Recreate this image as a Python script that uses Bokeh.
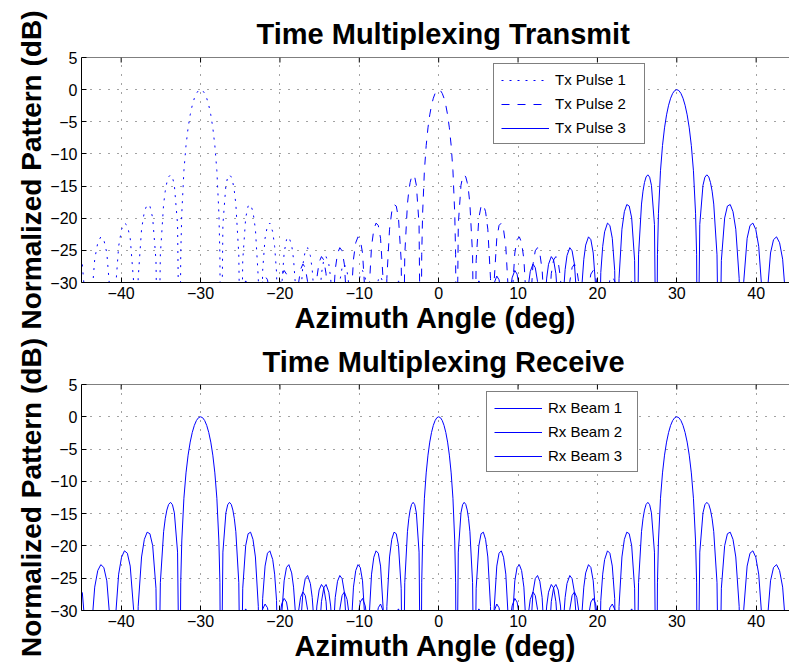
from bokeh.plotting import figure
from bokeh.models import Range1d, FixedTicker, Legend, LegendItem, Title, Span
from bokeh.layouts import column
from bokeh.embed import file_html
from bokeh.resources import INLINE

# ---------------- data ----------------
x_ticks = [-40, -30, -20, -10, 0, 10, 20, 30, 40]
x_tick_labels = ["\u221240", "\u221230", "\u221220", "\u221210", "0", "10", "20", "30", "40"]
y_ticks = [-30, -25, -20, -15, -10, -5, 0, 5]
y_tick_labels = ["\u221230", "\u221225", "\u221220", "\u221215", "\u221210", "\u22125", "0", "5"]
titles = ["Time Multiplexing Transmit", "Time Multiplexing Receive"]
x_label = "Azimuth Angle (deg)"
y_label = "Normalized Pattern (dB)"
tx_names = ["Tx Pulse 1", "Tx Pulse 2", "Tx Pulse 3"]
rx_names = ["Rx Beam 1", "Rx Beam 2", "Rx Beam 3"]

# Beam steered to -30 deg (angle in deg, normalized pattern in dB)
beam1_deg = [
    -44.901, -44.427,
    -44.113, -43.801, -43.336, -42.951, -42.568, -42.188, -41.810, -41.360,
    -41.061, -40.763, -40.320, -39.953, -39.587, -39.224, -38.862, -38.431,
    -38.144, -37.859, -37.434, -37.081, -36.730, -36.380, -36.032, -35.617,
    -35.341, -35.066, -34.655, -34.450, -34.246, -34.029, -33.785, -33.542, -33.300, -32.897,
    -32.630, -32.497, -32.364, -32.098, -31.833, -31.569, -31.306, -31.043, -30.781, -30.520, -30.260,
    -30.000, -29.741, -29.482, -29.225, -28.968, -28.711, -28.455, -28.200, -27.946, -27.691, -27.564,
    -27.438, -27.185, -26.807, -26.580, -26.354, -26.129, -25.929, -25.742, -25.555, -25.182,
    -24.934, -24.686, -24.316, -24.008, -23.701, -23.395, -23.089, -22.724,
    -22.479, -22.176, -21.873, -21.570, -21.269, -20.907, -20.667, -20.427,
    -20.068, -19.769, -19.471, -19.174, -18.876, -18.521, -18.284, -18.047,
    -17.693, -17.399, -17.105, -16.811, -16.518, -16.167, -15.933, -15.699,
    -15.349, -15.058, -14.768, -14.478, -14.188, -13.840, -13.609, -13.378,
    -13.032, -12.744, -12.456, -12.168, -11.881, -11.537, -11.308, -11.079,
    -10.735, -10.450, -10.164, -9.879, -9.594, -9.252, -9.025, -8.797,
    -8.457, -8.173, -7.889, -7.606, -7.322, -6.983, -6.756, -6.530,
    -6.191, -5.909, -5.626, -5.344, -5.062, -4.724, -4.498, -4.273, -3.935]
beam1_db = [
    -27.19, -34.13,
    -50, -33.84, -26.38, -23.82, -22.90, -23.34, -25.41, -32.29,
    -50, -31.90, -24.37, -21.75, -20.76, -21.13, -23.12, -29.90,
    -50, -29.36, -21.71, -18.98, -17.87, -18.11, -19.96, -26.55,
    -50, -25.70, -17.80, -15.79, -14.45, -13.58, -13.25, -13.62, -14.88, -20.96,
    -50, -25.61, -19.23, -12.62, -8.69, -5.94, -3.92, -2.42, -1.33, -0.58, -0.14,
    0, -0.14, -0.58, -1.33, -2.42, -3.92, -5.94, -8.69, -12.62, -19.23, -25.61,
    -50, -20.96, -14.88, -13.62, -13.25, -13.58, -14.45, -15.79, -17.80, -25.70,
    -50, -26.55, -19.96, -18.11, -17.87, -18.98, -21.71, -29.36,
    -50, -28.12, -23.12, -21.13, -20.76, -22.12, -24.37, -28.44,
    -50, -30.48, -25.41, -23.34, -22.90, -24.18, -26.38, -30.41,
    -50, -32.31, -27.19, -25.07, -24.58, -25.82, -27.98, -31.98,
    -50, -33.80, -28.64, -26.49, -25.97, -27.17, -29.31, -33.28,
    -50, -35.03, -29.85, -27.68, -27.13, -28.31, -30.43, -34.39,
    -50, -36.08, -30.88, -28.69, -28.13, -29.28, -31.39, -35.34,
    -50, -36.99, -31.78, -29.57, -29.00, -30.13, -32.23, -36.17,
    -50, -37.78, -32.55, -30.34, -29.75, -30.88, -32.97, -36.90, -50]

# Beam steered to 0 deg
beam2_deg = [
    -25.555, -25.306, -24.933, -24.624, -24.316, -24.008, -23.701, -23.333,
    -23.089, -22.845, -22.479, -22.176, -21.873, -21.570, -21.269, -20.907,
    -20.667, -20.427, -20.068, -19.769, -19.471, -19.174, -18.876, -18.521,
    -18.284, -18.047, -17.693, -17.399, -17.105, -16.811, -16.518, -16.167,
    -15.933, -15.699, -15.349, -15.058, -14.768, -14.478, -14.188, -13.840,
    -13.609, -13.378, -13.032, -12.744, -12.456, -12.168, -11.881, -11.537,
    -11.308, -11.079, -10.735, -10.450, -10.164, -9.879, -9.594, -9.252,
    -9.025, -8.797, -8.457, -8.173, -7.889, -7.606, -7.322, -6.983,
    -6.756, -6.530, -6.191, -5.909, -5.626, -5.344, -5.062, -4.724,
    -4.498, -4.273, -3.935, -3.766, -3.597, -3.417, -3.215, -3.012, -2.810, -2.472,
    -2.248, -2.135, -2.023, -1.798, -1.573, -1.348, -1.124, -0.899, -0.674, -0.449, -0.225,
    0.0,
    0.225, 0.449, 0.674, 0.899, 1.124, 1.348, 1.573, 1.798, 2.023, 2.135, 2.248,
    2.472, 2.810, 3.012, 3.215, 3.417, 3.597, 3.766, 3.935, 4.273, 4.498,
    4.724, 5.062, 5.344, 5.626, 5.909, 6.191, 6.530, 6.756,
    6.983, 7.322, 7.606, 7.889, 8.173, 8.457, 8.797, 9.025,
    9.252, 9.594, 9.879, 10.164, 10.450, 10.735, 11.079, 11.308,
    11.537, 11.881, 12.168, 12.456, 12.744, 13.032, 13.378, 13.609,
    13.840, 14.188, 14.478, 14.768, 15.058, 15.349, 15.699, 15.933,
    16.167, 16.518, 16.811, 17.105, 17.399, 17.693, 18.047, 18.284,
    18.521, 18.876, 19.174, 19.471, 19.769, 20.068, 20.427, 20.667,
    20.907, 21.269, 21.570, 21.873, 22.176, 22.479, 22.845, 23.089,
    23.333, 23.701, 24.008, 24.316, 24.624, 24.933, 25.306, 25.555]
beam2_db = [
    -50, -40.10, -32.97, -30.54, -29.75, -30.34, -32.55, -39.62,
    -50, -39.56, -32.23, -29.80, -29.00, -29.57, -31.78, -38.82,
    -50, -38.73, -31.39, -28.94, -28.13, -28.69, -30.88, -37.91,
    -50, -37.79, -30.43, -27.96, -27.13, -27.68, -29.85, -36.86,
    -50, -36.69, -29.31, -26.82, -25.97, -26.49, -28.64, -35.62,
    -50, -35.39, -27.98, -25.47, -24.58, -25.07, -27.19, -34.13,
    -50, -33.84, -26.38, -23.82, -22.90, -23.34, -25.41, -32.29,
    -50, -31.90, -24.37, -21.75, -20.76, -21.13, -23.12, -29.90,
    -50, -29.36, -21.71, -18.98, -17.87, -18.11, -19.96, -26.55,
    -50, -25.70, -17.80, -15.79, -14.45, -13.58, -13.25, -13.62, -14.88, -20.96,
    -50, -25.61, -19.23, -12.62, -8.69, -5.94, -3.92, -2.42, -1.33, -0.58, -0.14,
    0,
    -0.14, -0.58, -1.33, -2.42, -3.92, -5.94, -8.69, -12.62, -19.23, -25.61, -50,
    -20.96, -14.88, -13.62, -13.25, -13.58, -14.45, -15.79, -17.80, -25.70, -50,
    -26.55, -19.96, -18.11, -17.87, -18.98, -21.71, -29.36, -50,
    -29.90, -23.12, -21.13, -20.76, -21.75, -24.37, -31.90, -50,
    -32.29, -25.41, -23.34, -22.90, -23.82, -26.38, -33.84, -50,
    -34.13, -27.19, -25.07, -24.58, -25.47, -27.98, -35.39, -50,
    -35.62, -28.64, -26.49, -25.97, -26.82, -29.31, -36.69, -50,
    -36.86, -29.85, -27.68, -27.13, -27.96, -30.43, -37.79, -50,
    -37.91, -30.88, -28.69, -28.13, -28.94, -31.39, -38.73, -50,
    -38.82, -31.78, -29.57, -29.00, -29.80, -32.23, -39.56, -50,
    -39.62, -32.55, -30.34, -29.75, -30.54, -32.97, -40.10, -50]

# Beam steered to +30 deg
beam3_deg = [
    3.935, 4.273, 4.498, 4.724, 5.062, 5.344, 5.626, 5.909, 6.191,
    6.530, 6.756, 6.983, 7.322, 7.606, 7.889, 8.173, 8.457,
    8.797, 9.025, 9.252, 9.594, 9.879, 10.164, 10.450, 10.735,
    11.079, 11.308, 11.537, 11.881, 12.168, 12.456, 12.744, 13.032,
    13.378, 13.609, 13.840, 14.188, 14.478, 14.768, 15.058, 15.349,
    15.699, 15.933, 16.167, 16.518, 16.811, 17.105, 17.399, 17.693,
    18.047, 18.284, 18.521, 18.876, 19.174, 19.471, 19.769, 20.068,
    20.427, 20.667, 20.907, 21.269, 21.570, 21.873, 22.176, 22.479,
    22.724, 23.089, 23.395, 23.701, 24.008, 24.316, 24.686, 24.934,
    25.182, 25.555, 25.742, 25.929, 26.129, 26.354, 26.580, 26.807, 27.185, 27.438,
    27.564, 27.691, 27.946, 28.200, 28.455, 28.711, 28.968, 29.225, 29.482, 29.741, 30.000,
    30.260, 30.520, 30.781, 31.043, 31.306, 31.569, 31.833, 32.098, 32.364, 32.497, 32.630,
    32.897, 33.300, 33.542, 33.785, 34.029, 34.246, 34.450, 34.655, 35.066, 35.341,
    35.617, 36.032, 36.380, 36.730, 37.081, 37.434, 37.859, 38.144,
    38.431, 38.862, 39.224, 39.587, 39.953, 40.320, 40.763, 41.061,
    41.360, 41.810, 42.188, 42.568, 42.951, 43.336, 43.801, 44.113,
    44.427, 44.901]
beam3_db = [
    -50, -36.90, -32.97, -30.88, -29.75, -30.34, -32.55, -37.78, -50,
    -36.17, -32.23, -30.13, -29.00, -29.57, -31.78, -36.99, -50,
    -35.34, -31.39, -29.28, -28.13, -28.69, -30.88, -36.08, -50,
    -34.39, -30.43, -28.31, -27.13, -27.68, -29.85, -35.03, -50,
    -33.28, -29.31, -27.17, -25.97, -26.49, -28.64, -33.80, -50,
    -31.98, -27.98, -25.82, -24.58, -25.07, -27.19, -32.31, -50,
    -30.41, -26.38, -24.18, -22.90, -23.34, -25.41, -30.48, -50,
    -28.44, -24.37, -22.12, -20.76, -21.13, -23.12, -28.12, -50,
    -29.36, -21.71, -18.98, -17.87, -18.11, -19.96, -26.55, -50,
    -25.70, -17.80, -15.79, -14.45, -13.58, -13.25, -13.62, -14.88, -20.96, -50,
    -25.61, -19.23, -12.62, -8.69, -5.94, -3.92, -2.42, -1.33, -0.58, -0.14, 0,
    -0.14, -0.58, -1.33, -2.42, -3.92, -5.94, -8.69, -12.62, -19.23, -25.61, -50,
    -20.96, -14.88, -13.62, -13.25, -13.58, -14.45, -15.79, -17.80, -25.70, -50,
    -26.55, -19.96, -18.11, -17.87, -18.98, -21.71, -29.36, -50,
    -29.90, -23.12, -21.13, -20.76, -21.75, -24.37, -31.90, -50,
    -32.29, -25.41, -23.34, -22.90, -23.82, -26.38, -33.84, -50,
    -34.13, -27.19]

# ---------------- styling ----------------
FONT = "Liberation Sans"
BLUE = "#0000ff"
X_MIN, X_MAX, Y_MIN, Y_MAX = -45, 44.2, -30, 5


def style_axis(ax, ticks, labels, label_text, label_size):
    ax.ticker = FixedTicker(ticks=ticks)
    ax.major_label_overrides = dict(zip(ticks, labels))
    ax.major_tick_in = 5
    ax.major_tick_out = 0
    ax.minor_tick_in = 0
    ax.minor_tick_out = 0
    ax.axis_line_color = "black"
    ax.axis_line_width = 1
    ax.major_tick_line_color = "black"
    ax.major_label_text_font = FONT
    ax.major_label_text_color = "black"
    ax.major_label_text_font_size = "16px"
    ax.major_label_standoff = 4
    ax.axis_label = label_text
    ax.axis_label_text_font = FONT
    ax.axis_label_text_font_size = label_size
    ax.axis_label_text_font_style = "bold"
    ax.axis_label_text_color = "black"
    ax.axis_label_standoff = 0


def build(title, height, border_top, border_bottom, title_offset, title_standoff,
          names, dashes, legend_xy, legend_lw):
    p = figure(width=789, height=height, output_backend="svg", toolbar_location=None,
               x_range=Range1d(X_MIN, X_MAX), y_range=Range1d(Y_MIN, Y_MAX),
               min_border_left=81, min_border_right=0,
               min_border_top=border_top, min_border_bottom=border_bottom,
               background_fill_color="white", border_fill_color="white")
    p.outline_line_color = None
    p.title = Title(text=title, align="left", offset=title_offset, standoff=title_standoff,
                    text_font=FONT, text_font_size="29px", text_font_style="bold",
                    text_color="black")

    style_axis(p.xaxis[0], x_ticks, x_tick_labels, x_label, "29px")
    style_axis(p.yaxis[0], y_ticks, y_tick_labels, y_label, "28px")

    # top edge of the box with inward ticks (MATLAB "box on")
    p.add_layout(Span(location=Y_MAX, dimension="width", line_color="black", line_width=1))
    tick_len = (Y_MAX - Y_MIN) / 225.0 * 5
    p.segment(x0=x_ticks, y0=[Y_MAX] * len(x_ticks), x1=x_ticks,
              y1=[Y_MAX - tick_len] * len(x_ticks), line_color="black", line_width=1)

    p.xgrid.ticker = FixedTicker(ticks=x_ticks)
    p.ygrid.ticker = FixedTicker(ticks=y_ticks)
    for g in (p.xgrid, p.ygrid):
        g.grid_line_color = "#444444"
        g.grid_line_dash = "1 8"
        g.grid_line_width = 1

    series = [(beam1_deg, beam1_db), (beam2_deg, beam2_db), (beam3_deg, beam3_db)]
    items = []
    for (xs, ys), name, dash in zip(series, names, dashes):
        r = p.line(x=xs, y=ys, line_color=BLUE, line_width=1, line_dash=dash)
        items.append(LegendItem(label=name, renderers=[r]))

    leg = Legend(items=items, location=legend_xy, margin=0,
                 label_text_font=FONT, label_text_font_size="15px", label_text_color="black",
                 glyph_width=48, glyph_height=16, label_height=16, label_width=82,
                 label_standoff=6, spacing=7, padding=7,
                 border_line_color="black", border_line_width=legend_lw,
                 background_fill_color="white", background_fill_alpha=1.0)
    p.add_layout(leg, "center")
    return p


p1 = build(titles[0], 337, 57, 55, 175, 16, tx_names, ["2 6", "8 8", "solid"], (412, 138), 1.2)
p2 = build(titles[1], 330, 47, 57, 181, 13, rx_names, ["solid", "solid", "solid"], (405, 138), 1.8)

layout = column(p1, p2, spacing=0)
open("out.html", "w").write(file_html(layout, INLINE))
